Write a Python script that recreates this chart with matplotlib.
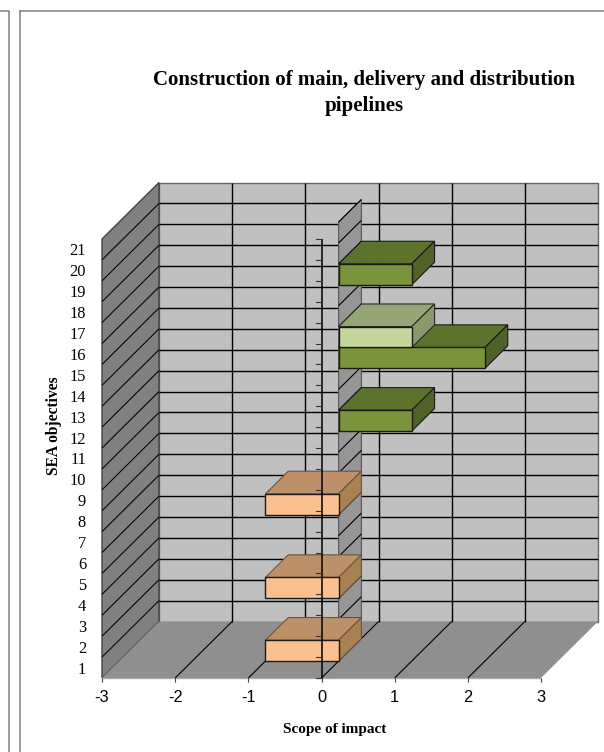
import matplotlib
matplotlib.use("Agg")
import matplotlib.pyplot as plt
from matplotlib.lines import Line2D
from matplotlib.patches import Polygon

# SEA objectives 1..21, scope of impact per series
objectives = list(range(1, 22))
adverse = [-1, 0, 0, -1, 0, 0, 0, -1, 0, 0, 0, 0, 0, 0, 0, 0, 0, 0, 0, 0, 0]
beneficial = [0, 0, 0, 0, 0, 0, 0, 0, 0, 0, 0, 1, 0, 0, 2, 0, 0, 0, 1, 0, 0]
minor = [0, 0, 0, 0, 0, 0, 0, 0, 0, 0, 0, 0, 0, 0, 0, 1, 0, 0, 0, 0, 0]
scope_ticks = [-3, -2, -1, 0, 1, 2, 3]

W, H = 604, 752
SERIF = "Liberation Serif"
SANS = "Liberation Sans"

# depth of the fake 3D box, in data units
DX = 57 / (439 / 6)
DY = 56.5 / (439 / 21)
BAR_NEAR, BAR_FAR = 0.3, 0.7

# front, top, side, edge of top and side
ORANGE = ("#FAC090", "#BC9068", "#A98254", "#6b5540")
GREEN = ("#7A943C", "#5B732D", "#4F6229", "#1a1a1a")
LIGHT = ("#C3D69B", "#95A676", "#889A6B", "#2a2a2a")


def proj(x, y, d):
    return x + d * DX, y + d * DY


def poly(ax, corners, color, edge="none", lw=1.0, z=1):
    ax.add_patch(Polygon([proj(*c) for c in corners], closed=True, facecolor=color,
                         edgecolor=edge, linewidth=lw, zorder=z, clip_on=False))


def seg(ax, a, b, color="black", lw=1.0, z=2):
    (x0, y0), (x1, y1) = proj(*a), proj(*b)
    ax.plot([x0, x1], [y0, y1], color=color, lw=lw, zorder=z, clip_on=False,
            solid_capstyle="butt")


def bar(ax, val, cat, colors, z):
    front, top, side, edge = colors
    lo, hi = min(val, 0), max(val, 0)
    y0, y1 = cat - 1, cat
    n, f = BAR_NEAR, BAR_FAR
    poly(ax, [(lo, y1, n), (hi, y1, n), (hi, y1, f), (lo, y1, f)], top, edge, lw=0.8, z=z)
    poly(ax, [(hi, y0, n), (hi, y0, f), (hi, y1, f), (hi, y1, n)], side, edge, lw=0.8, z=z)
    poly(ax, [(lo, y0, n), (hi, y0, n), (hi, y1, n), (lo, y1, n)], front, "#1a1a1a", z=z)


fig = plt.figure(figsize=(W / 100, H / 100), dpi=100)
ax = fig.add_axes([102 / W, (H - 678) / H, 439 / W, 439 / H])
ax.set_xlim(scope_ticks[0], scope_ticks[-1])
ax.set_ylim(0, len(objectives))
for s in ax.spines.values():
    s.set_visible(False)

x_lo, x_hi = scope_ticks[0], scope_ticks[-1]
y_top = len(objectives)

# walls and floor
poly(ax, [(x_lo, 0, 1), (x_hi, 0, 1), (x_hi, y_top, 1), (x_lo, y_top, 1)], "#C0C0C0", "#666666", z=1)
poly(ax, [(x_lo, 0, 0), (x_lo, 0, 1), (x_lo, y_top, 1), (x_lo, y_top, 0)], "#808080", "#444444", z=1)
poly(ax, [(x_lo, 0, 0), (x_hi, 0, 0), (x_hi, 0, 1), (x_lo, 0, 1)], "#8F8F8F", z=1)
seg(ax, (x_lo, 0, 0), (x_hi, 0, 0), color="#ABABAB", lw=1.0, z=1.5)

# gridlines on the walls
for c in range(1, y_top):
    seg(ax, (x_lo, c, 1), (x_hi, c, 1))
    seg(ax, (x_lo, c, 0), (x_lo, c, 1), lw=0.75)
for v in scope_ticks[1:-1]:
    seg(ax, (v, 0, 0), (v, 0, 1), lw=0.8)
    seg(ax, (v, 0, 1), (v, y_top, 1))

# zero plane between the bars' front and back
poly(ax, [(0, 0, BAR_NEAR), (0, 0, BAR_FAR), (0, y_top, BAR_FAR), (0, y_top, BAR_NEAR)],
     "#969696", "#555555", lw=0.8, z=3)
for c in range(1, y_top + 1):
    seg(ax, (0, c, BAR_NEAR), (0, c, BAR_FAR), lw=0.8, z=3)

# bars, bottom to top so upper ones overlap
for i, cat in enumerate(objectives):
    z = 4 + i * 0.01
    if adverse[i]:
        bar(ax, adverse[i], cat, ORANGE, z)
    if beneficial[i]:
        bar(ax, beneficial[i], cat, GREEN, z)
    if minor[i]:
        bar(ax, minor[i], cat, LIGHT, z)

# value axis line at zero with its ticks, drawn over the bars
seg(ax, (0, 0, 0), (0, y_top, 0), lw=1.1, z=6)
for c in range(0, y_top + 1):
    ax.plot([-0.07, 0], [c, c], color="#333333", lw=0.8, zorder=6, clip_on=False)

ax.set_xticks(scope_ticks)
ax.set_xticklabels([str(v) for v in scope_ticks], family=SANS, fontsize=11.8)
ax.tick_params(axis="x", length=3, width=0.8, pad=5.5, color="#444444")
ax.set_yticks([c - 0.5 for c in objectives])
ax.set_yticklabels([str(c) for c in objectives], family=SERIF, fontsize=11.8)
ax.tick_params(axis="y", length=0, pad=11.5)

ax.set_xlabel("Scope of impact", family=SERIF, fontweight="bold", fontsize=11)
ax.xaxis.set_label_coords((335 - 102) / 439, -(729 - 678) / 439)
ax.xaxis.label.set_va("center")
ax.set_ylabel("SEA objectives", family=SERIF, fontweight="bold", fontsize=11.2)
ax.yaxis.set_label_coords((54 - 102) / 439, (678 - 426) / 439)
ax.yaxis.label.set_va("center")

fig.text(364.5 / W, 1 - 93.5 / H, "Construction of main, delivery and distribution\npipelines",
         family=SERIF, fontweight="bold", fontsize=15, ha="center", va="center",
         linespacing=1.4)

# page frames left over from the source document
for xs, ys in [([0, 8.5, 8.5], [10.5, 10.5, H]), ([20, 20], [H, 11]), ([20, W], [11, 11])]:
    fig.add_artist(Line2D([x / W for x in xs], [1 - y / H for y in ys], color="#808080", lw=1.1))

fig.savefig("out.png", dpi=100)
